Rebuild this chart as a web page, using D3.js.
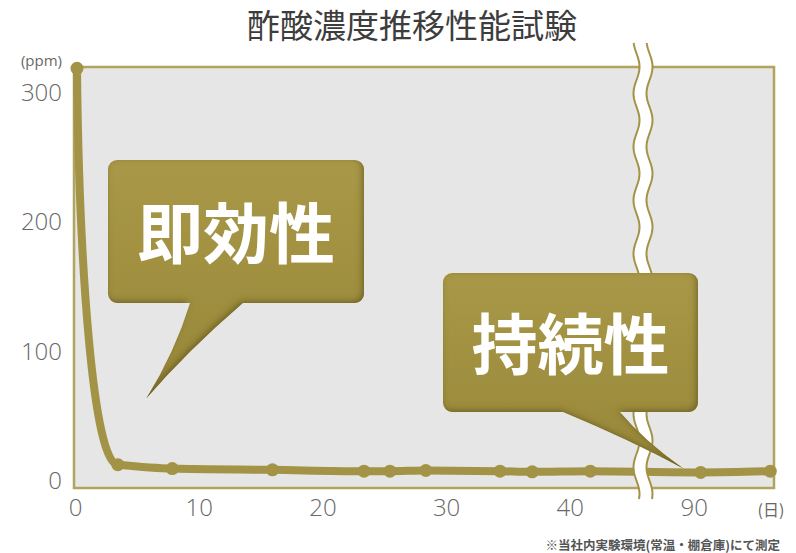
<!DOCTYPE html>
<html>
<head>
<meta charset="utf-8">
<script src="https://cdn.jsdelivr.net/npm/d3@7"></script>
<style>
  body { margin: 0; background: #fff; }
  svg text { font-family: "Open Sans", "Noto Sans CJK JP", sans-serif; }
</style>
</head>
<body>
<svg id="chart" width="796" height="553"></svg>
<script>
// readings (days / ppm)
const days = [0, 3.3, 7.7, 15.8, 23.2, 25.3, 28.2, 34.2, 36.8, 41.5, 90.4, 96]
const ppm = [321, 15, 12, 11, 10, 10, 10.5, 10, 9.5, 10, 9, 10]
const xTicks = [0, 10, 20, 30, 40, 90]
const yTicks = [0, 100, 200, 300]
const noteTexts = ['即効性', '持続性']
const noteTips = [[5.6, 66], [89, 12]]   // where each bubble points (day, ppm)

const olive = '#a39346'
const frameCol = '#b1a45f'

const svg = d3.select('#chart')

// broken x axis: 46 -> 86 is cut out
const x = d3.scaleLinear().domain([0, 46, 86, 96.3]).range([77, 646, 646, 774])
const y = d3.scaleLinear().domain([-3, 322]).range([488, 67])
const frameLeft = x(0) - 3

const defs = svg.append('defs')
const f = defs.append('filter').attr('id', 'bevel')
  .attr('x', '-5%').attr('y', '-5%').attr('width', '110%').attr('height', '110%')
f.append('feGaussianBlur').attr('in', 'SourceAlpha').attr('stdDeviation', 3).attr('result', 'blur')
f.append('feOffset').attr('in', 'blur').attr('dx', -2).attr('dy', -2).attr('result', 'off')
f.append('feComposite').attr('in', 'SourceAlpha').attr('in2', 'off')
  .attr('operator', 'arithmetic').attr('k2', 1).attr('k3', -1).attr('result', 'edge')
f.append('feFlood').attr('flood-color', '#5a4e1c').attr('flood-opacity', 0.75)
f.append('feComposite').attr('in2', 'edge').attr('operator', 'in').attr('result', 'shade')
const fm = f.append('feMerge')
fm.append('feMergeNode').attr('in', 'SourceGraphic')
fm.append('feMergeNode').attr('in', 'shade')

const grad = defs.append('linearGradient').attr('id', 'bubbleFill')
  .attr('x1', 0).attr('y1', 0).attr('x2', 0).attr('y2', 1)
grad.append('stop').attr('offset', '0%').attr('stop-color', '#a89847')
grad.append('stop').attr('offset', '100%').attr('stop-color', '#978739')

// title
svg.append('text')
  .attr('x', 412).attr('y', 38)
  .attr('text-anchor', 'middle')
  .style('font-family', '"Noto Sans CJK JP", sans-serif')
  .style('font-size', '33px')
  .attr('fill', '#3d3d3d')
  .text('酢酸濃度推移性能試験')

// plot panel
svg.append('rect')
  .attr('x', frameLeft).attr('y', y(322))
  .attr('width', x(96.3) - frameLeft).attr('height', y(-3) - y(322))
  .attr('fill', '#e6e6e6')
  .attr('stroke', frameCol)
  .attr('stroke-width', 2.5)

// axes, labels only
const yAxis = svg.append('g')
  .attr('transform', `translate(${frameLeft},0)`)
  .call(d3.axisLeft(y).tickValues(yTicks).tickSize(0).tickPadding(12))
yAxis.select('.domain').remove()
yAxis.selectAll('text')
  .attr('dy', '0.2em')
  .style('font-size', '24px').style('font-weight', 300)
  .attr('fill', '#686868')

const xAxis = svg.append('g')
  .attr('transform', `translate(-2,${y(-3)})`)
  .call(d3.axisBottom(x).tickValues(xTicks).tickSize(0).tickPadding(11))
xAxis.select('.domain').remove()
xAxis.selectAll('text')
  .style('font-size', '24px').style('font-weight', 300)
  .attr('fill', '#686868')

svg.append('text')
  .attr('x', 62).attr('y', 66)
  .attr('text-anchor', 'end')
  .style('font-size', '15px')
  .attr('fill', '#686868')
  .text('(ppm)')

svg.append('text')
  .attr('x', 771).attr('y', 516)
  .attr('text-anchor', 'middle')
  .style('font-family', '"Noto Sans CJK JP", sans-serif')
  .style('font-size', '16px')
  .attr('fill', '#686868')
  .text('(日)')

// data line + markers
const pts = days.map((d, i) => [d, ppm[i]])
const line = d3.line().x(d => x(d[0])).y(d => y(d[1])).curve(d3.curveMonotoneX)

// the first drop is drawn as a decay-shaped bezier, the rest through monotone
const a = [x(pts[0][0]), y(pts[0][1])], b = [x(pts[1][0]), y(pts[1][1])]
const head = d3.path()
head.moveTo(a[0], a[1])
head.bezierCurveTo(a[0] + 0.05 * (b[0] - a[0]), a[1] + 0.5 * (b[1] - a[1]),
  a[0] + 0.4 * (b[0] - a[0]), b[1], b[0], b[1])

svg.append('path')
  .attr('d', head.toString() + line(pts.slice(1)).replace(/^M/, 'L'))
  .attr('fill', 'none')
  .attr('stroke', olive)
  .attr('stroke-width', 8)
  .attr('stroke-linejoin', 'round')
  .attr('stroke-linecap', 'round')

svg.selectAll('circle.pt')
  .data(pts)
  .enter()
  .append('circle')
  .attr('class', 'pt')
  .attr('cx', d => x(d[0]))
  .attr('cy', d => y(d[1]))
  .attr('r', 6.5)
  .attr('fill', olive)

// axis break (wavy double line)
const bx = (x(46) + x(86)) / 2 - 3
const waveY = d3.range(43, 501, 2)
const wave = off => waveY.map(v => [bx + off + 3 * Math.sin(v / 8.5), v])
const left = wave(-6.5), right = wave(6.5)
svg.append('path')
  .attr('d', d3.line()(left.concat(right.slice().reverse())) + 'Z')
  .attr('fill', '#fff')
svg.selectAll('path.brk')
  .data([left, right])
  .enter()
  .append('path')
  .attr('class', 'brk')
  .attr('d', d3.line())
  .attr('fill', 'none')
  .attr('stroke', olive)
  .attr('stroke-width', 2)

// speech bubbles
const boxes = [
  { x: 108, y: 160, w: 256, h: 143, b0: 190, b1: 243 },
  { x: 443, y: 273, w: 255, h: 139, b0: 563, b1: 620 }
]

function bubblePath(b, tip) {
  const r = 9, bot = b.y + b.h
  const [tx, ty] = tip
  const mx = (b.b0 + b.b1) / 2
  // control points pulled toward the tail axis so the sides are concave
  const c = (bx0) => {
    const ex = (bx0 + tx) / 2, ey = (bot + ty) / 2
    const ax = (mx + tx) / 2
    return [ex * 0.45 + ax * 0.55, ey]
  }
  const c1 = c(b.b1), c0 = c(b.b0)
  const p = d3.path()
  p.moveTo(b.x + r, b.y)
  p.lineTo(b.x + b.w - r, b.y)
  p.arcTo(b.x + b.w, b.y, b.x + b.w, b.y + r, r)
  p.lineTo(b.x + b.w, bot - r)
  p.arcTo(b.x + b.w, bot, b.x + b.w - r, bot, r)
  p.lineTo(b.b1, bot)
  p.quadraticCurveTo(c1[0], c1[1], tx, ty)
  p.quadraticCurveTo(c0[0], c0[1], b.b0, bot)
  p.lineTo(b.x + r, bot)
  p.arcTo(b.x, bot, b.x, bot - r, r)
  p.lineTo(b.x, b.y + r)
  p.arcTo(b.x, b.y, b.x + r, b.y, r)
  p.closePath()
  return p.toString()
}

const notes = svg.selectAll('g.note')
  .data(boxes)
  .enter()
  .append('g')
  .attr('class', 'note')

notes.append('path')
  .attr('d', (d, i) => bubblePath(d, [x(noteTips[i][0]), y(noteTips[i][1])]))
  .attr('fill', 'url(#bubbleFill)')
  .attr('filter', 'url(#bevel)')

notes.append('text')
  .attr('x', d => d.x + d.w / 2)
  .attr('y', d => d.y + d.h / 2 + 26)
  .attr('text-anchor', 'middle')
  .style('font-family', '"Noto Sans CJK JP", sans-serif')
  .style('font-size', '66px')
  .style('font-weight', 700)
  .attr('fill', '#fff')
  .text((d, i) => noteTexts[i])

// footnote
svg.append('text')
  .attr('x', 780).attr('y', 550)
  .attr('text-anchor', 'end')
  .style('font-family', '"Noto Sans CJK JP", sans-serif')
  .style('font-size', '12.5px')
  .style('font-weight', 700)
  .attr('fill', '#555')
  .text('※当社内実験環境(常温・棚倉庫)にて測定')
</script>
</body>
</html>
